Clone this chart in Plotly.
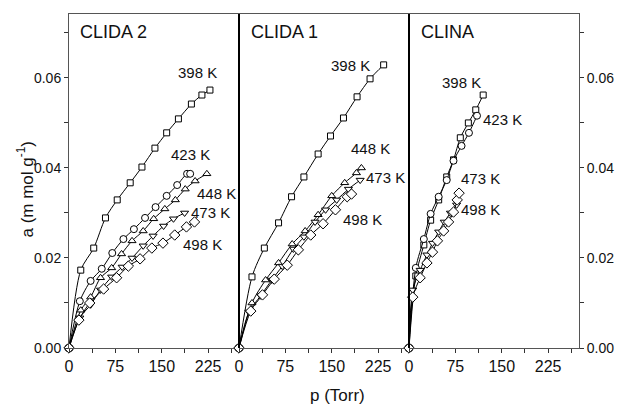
import plotly.graph_objects as go

# ---------------- data (p in Torr, a in mmol/g) ----------------
# CLIDA 2
c2_p_398 = [0, 19, 40, 59, 78, 99, 118, 139, 158, 177, 198, 215, 228]
c2_a_398 = [0, 0.0173, 0.0222, 0.0289, 0.0329, 0.0367, 0.0402, 0.0444, 0.0478, 0.0509, 0.0542, 0.0562, 0.0573]
c2_p_423 = [0, 17.5, 35, 53, 70, 88, 105, 123, 140, 158, 175, 191, 196]
c2_a_423 = [0, 0.0104, 0.0149, 0.0176, 0.0211, 0.0242, 0.0264, 0.0289, 0.0313, 0.0338, 0.0362, 0.0387, 0.0387]
c2_p_448 = [0, 19, 35, 51, 69, 85, 102, 120, 137, 155, 172, 188, 204, 223]
c2_a_448 = [0, 0.0084, 0.0113, 0.0156, 0.0178, 0.0209, 0.0238, 0.0260, 0.0287, 0.0309, 0.0329, 0.0353, 0.0371, 0.0387]
c2_p_473 = [0, 17.5, 35, 51, 69, 86, 102, 120, 136, 153, 169, 187]
c2_a_473 = [0, 0.0067, 0.0096, 0.0129, 0.0158, 0.0180, 0.0200, 0.0227, 0.0249, 0.0271, 0.0287, 0.0300]
c2_p_498 = [0, 16, 33.5, 56, 77, 96, 115, 134, 152, 171, 190, 203]
c2_a_498 = [0, 0.0062, 0.0100, 0.0131, 0.0156, 0.0182, 0.0198, 0.0222, 0.0233, 0.0251, 0.0269, 0.0280]

# CLIDA 1
c1_p_398 = [0, 21, 41, 64, 85, 105, 128, 148, 169, 191, 212, 234]
c1_a_398 = [0, 0.0158, 0.0222, 0.0278, 0.0336, 0.0380, 0.0431, 0.0471, 0.0511, 0.0558, 0.0598, 0.0629]
c1_p_448 = [0, 21, 43, 64, 86, 107, 128, 150, 171, 190, 198]
c1_a_448 = [0, 0.0100, 0.0151, 0.0189, 0.0231, 0.0260, 0.0296, 0.0338, 0.0367, 0.0389, 0.0400]
c1_p_473 = [0, 16, 35, 53, 70, 88, 105, 123, 140, 158, 177, 196]
c1_a_473 = [0, 0.0080, 0.0116, 0.0151, 0.0182, 0.0220, 0.0247, 0.0280, 0.0307, 0.0329, 0.0353, 0.0373]
c1_p_498 = [0, 19, 38, 57, 78, 96, 116, 136, 156, 175, 182]
c1_a_498 = [0, 0.0082, 0.0118, 0.0153, 0.0184, 0.0218, 0.0251, 0.0276, 0.0307, 0.0336, 0.0342]

# CLINA
cn_p_398 = [0, 11, 24, 35, 48, 61, 72, 83, 96, 108, 120]
cn_a_398 = [0, 0.0160, 0.0229, 0.0284, 0.0329, 0.0380, 0.0418, 0.0467, 0.0500, 0.0529, 0.0562]
cn_p_423 = [0, 11, 24, 35, 48, 61, 72, 85, 97, 110]
cn_a_423 = [0, 0.0178, 0.0242, 0.0298, 0.0336, 0.0373, 0.0416, 0.0449, 0.0478, 0.0516]
cn_p_473 = [0, 6, 18, 29, 38, 48, 57, 67, 77]
cn_a_473 = [0, 0.0129, 0.0173, 0.0207, 0.0233, 0.0258, 0.0280, 0.0300, 0.0318]
cn_p_498 = [0, 6, 18, 29, 38, 46, 56, 64, 72, 78, 81]
cn_a_498 = [0, 0.0113, 0.0156, 0.0189, 0.0213, 0.0238, 0.0260, 0.0280, 0.0302, 0.0329, 0.0344]

panel_names = ["CLIDA 2", "CLIDA 1", "CLINA"]
x_ticks = [0, 75, 150, 225]
y_ticks = [0.00, 0.02, 0.04, 0.06]

symbols = {398: "square", 423: "circle", 448: "triangle-up", 473: "triangle-down", 498: "diamond"}
msize = {398: 6, 423: 7, 448: 7, 473: 7, 498: 8}

series = [
    (1, 398, c2_p_398, c2_a_398), (1, 423, c2_p_423, c2_a_423), (1, 448, c2_p_448, c2_a_448),
    (1, 473, c2_p_473, c2_a_473), (1, 498, c2_p_498, c2_a_498),
    (2, 398, c1_p_398, c1_a_398), (2, 448, c1_p_448, c1_a_448), (2, 473, c1_p_473, c1_a_473),
    (2, 498, c1_p_498, c1_a_498),
    (3, 398, cn_p_398, cn_a_398), (3, 423, cn_p_423, cn_a_423), (3, 473, cn_p_473, cn_a_473),
    (3, 498, cn_p_498, cn_a_498),
]

# ---------------- layout geometry ----------------
W, H = 626, 409
L, R, T, B = 69, 585, 14, 348
FONT = "Arial, Liberation Sans, sans-serif"


def pxp(x):
    return (x - L) / (R - L)


def pyp(y):
    return (B - y) / (B - T)


d1, d2 = 172 / 516, 344 / 516
XR = [0, 275]
YR = [0, 0.0742]

fig = go.Figure()
for panel, temp, p, a in series:
    sfx = "" if panel == 1 else str(panel)
    fig.add_trace(go.Scatter(
        x=p, y=a, xaxis="x" + sfx, yaxis="y" + sfx,
        mode="lines+markers",
        line=dict(color="black", width=1, shape="spline", smoothing=0.8),
        marker=dict(symbol=symbols[temp], size=msize[temp], color="white",
                    line=dict(color="black", width=1)),
        cliponaxis=False, showlegend=False, hoverinfo="skip",
    ))

xcommon = dict(range=XR, showline=True, mirror=True, linecolor="#555", linewidth=1,
               ticks="outside", ticklen=4, tickcolor="#333", tickvals=x_ticks,
               ticktext=[str(v) for v in x_ticks],
               minor=dict(dtick=37.5, tick0=0, ticks="outside", ticklen=4, tickcolor="#333"),
               showgrid=False, zeroline=False,
               tickfont=dict(family=FONT, size=16, color="#111"))

fig.update_layout(
    width=W, height=H, autosize=False,
    margin=dict(l=L, r=W - R, t=T, b=H - B, pad=0),
    paper_bgcolor="white", plot_bgcolor="white",
    xaxis=dict(domain=[0, d1], anchor="y", **xcommon),
    xaxis2=dict(domain=[d1, d2], anchor="y2", **xcommon),
    xaxis3=dict(domain=[d2, 1], anchor="y3", **xcommon),
    yaxis=dict(range=YR, anchor="x", showline=True, linecolor="#555", linewidth=1,
               ticks="outside", ticklen=4, tickcolor="#333", tickvals=y_ticks,
               ticktext=["%.2f" % v for v in y_ticks],
               minor=dict(dtick=0.01, tick0=0, ticks="outside", ticklen=4, tickcolor="#333"),
               showgrid=False, zeroline=False,
               tickfont=dict(family=FONT, size=14, color="#111")),
    yaxis2=dict(range=YR, anchor="x2", showline=False, showticklabels=False, ticks="",
                showgrid=False, zeroline=False),
    yaxis3=dict(range=YR, anchor="x3", side="right", showline=True, linecolor="#555", linewidth=1,
                ticks="outside", ticklen=4, tickcolor="#333", tickvals=y_ticks,
                ticktext=["%.2f" % v for v in y_ticks],
                minor=dict(dtick=0.01, tick0=0, ticks="outside", ticklen=4, tickcolor="#333"),
                showgrid=False, zeroline=False,
                tickfont=dict(family=FONT, size=14, color="#111")),
)

# panel separators
for xd in (d1, d2):
    fig.add_shape(type="line", xref="paper", yref="paper", x0=xd, x1=xd, y0=0, y1=1,
                  line=dict(color="black", width=2), layer="above")

ann = []
# panel names
for name, xl in zip(panel_names, (78, 251, 423)):
    ann.append(dict(text=name, x=pxp(xl), y=pyp(32), xanchor="left", yanchor="middle",
                    font=dict(family=FONT, size=18, color="#111")))

# temperature labels (pixel centres)
temp_labels = [
    ("398 K", 199, 72), ("423 K", 192, 154), ("448 K", 218, 193), ("473 K", 212, 212), ("498 K", 204, 244),
    ("398 K", 354, 65), ("448 K", 374, 148), ("473 K", 389, 177), ("498 K", 366, 219),
    ("398 K", 466, 82), ("423 K", 508, 119), ("473 K", 485, 178), ("498 K", 485, 209),
]
for t, xc, yc in temp_labels:
    ann.append(dict(text=t, x=pxp(xc), y=pyp(yc), xanchor="center", yanchor="middle",
                    font=dict(family=FONT, size=15, color="#111")))

# axis titles
ann.append(dict(text="p (Torr)", x=pxp(341), y=pyp(395), xanchor="center", yanchor="middle",
                font=dict(family=FONT, size=17, color="#111")))
ann.append(dict(text="a (m mol g<sup>-1</sup>)", x=pxp(25), y=pyp(189), xanchor="center",
                yanchor="middle", textangle=-90, font=dict(family=FONT, size=17, color="#111")))

for a_ in ann:
    a_.update(xref="paper", yref="paper", showarrow=False)
fig.update_layout(annotations=ann)

fig.write_html("out.html")
